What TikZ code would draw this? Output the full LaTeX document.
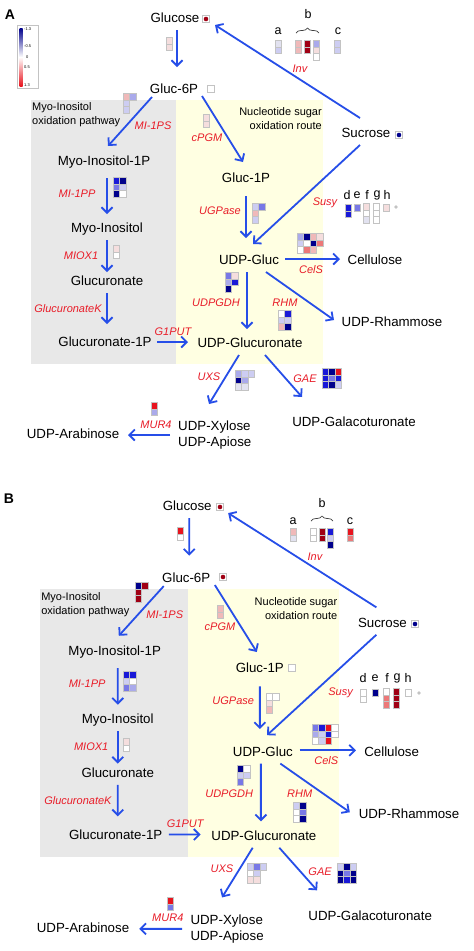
\documentclass[tikz,border=0pt]{standalone}
\usepackage{fontspec}
\setmainfont{Liberation Sans}
\usetikzlibrary{arrows.meta,decorations.pathreplacing}
\definecolor{arrblue}{RGB}{38,78,232}
\definecolor{lblred}{RGB}{232,28,40}
\definecolor{graybg}{RGB}{232,232,232}
\definecolor{yelbg}{RGB}{255,255,226}
\definecolor{db}{RGB}{0,0,140}
\definecolor{bl}{RGB}{25,25,215}
\definecolor{mb}{RGB}{120,120,230}
\definecolor{lb}{RGB}{170,170,235}
\definecolor{vb}{RGB}{205,205,242}
\definecolor{vvb}{RGB}{226,226,240}
\definecolor{wh}{RGB}{255,255,255}
\definecolor{vpk}{RGB}{245,222,222}
\definecolor{lp}{RGB}{240,185,185}
\definecolor{pk}{RGB}{236,120,120}
\definecolor{rd}{RGB}{232,20,30}
\definecolor{dr}{RGB}{160,0,20}
\definecolor{cellgray}{RGB}{195,195,195}
\newcommand\hrow[3]{\foreach \cc [count=\ii from 0] in {#3}{\fill[\cc] ({#1+6.5*\ii},#2) rectangle ++(6.5,6.8); \draw[cellb] ({#1+6.5*\ii},#2) rectangle ++(6.5,6.8);}}
\newcommand\hcol[3]{\foreach \cc [count=\ii from 0] in {#3}{\fill[\cc] (#1,{#2+6.8*\ii}) rectangle ++(6.5,6.8); \draw[cellb] (#1,{#2+6.8*\ii}) rectangle ++(6.5,6.8);}}
\newcommand\metmk[3]{\draw[cellb,fill=white] ({#1-3.5},{#2-3.5}) rectangle ++(7,7); \fill[#3] (#1,#2) circle (2.3);}
\newcommand\drawpanel[1]{%
  \fill[graybg] (31,100) rectangle (176,364);
  \fill[yelbg] (176,100) rectangle (323,364);
  \node[pathlbl, anchor=west, align=left] (#1path1) at (32,115) {Myo-Inositol\\oxidation pathway};
  \node[pathlbl, anchor=east, align=right] (#1path2) at (322,119) {Nucleotide sugar\\oxidation route};
  \node[met] (#1glc) at (175,18) {Glucose};
  \node[met] (#1g6p) at (174,89) {Gluc-6P};
  \node[met] (#1suc) at (366,133) {Sucrose};
  \node[met] (#1mi1p) at (104,161) {Myo-Inositol-1P};
  \node[met] (#1myo) at (107,228) {Myo-Inositol};
  \node[met] (#1glcn) at (107,281) {Glucuronate};
  \node[met] (#1glcn1p) at (105,342) {Glucuronate-1P};
  \node[met] (#1g1p) at (246,178) {Gluc-1P};
  \node[met] (#1udpg) at (249,260) {UDP-Gluc};
  \node[met] (#1cell) at (375,260) {Cellulose};
  \node[met] (#1rham) at (392,322) {UDP-Rhammose};
  \node[met] (#1udpga) at (250,343) {UDP-Glucuronate};
  \node[met] (#1galac) at (354,422) {UDP-Galacoturonate};
  \node[met2, anchor=west, align=left] (#1xyl) at (178,435) {UDP-Xylose\\UDP-Apiose};
  \node[met] (#1arab) at (73,434) {UDP-Arabinose};
  \node[enz] (#1mi1ps) at (153,125) {MI-1PS};
  \node[enz] (#1cpgm) at (207,137) {cPGM};
  \node[enz] (#1inv) at (300,68) {Inv};
  \node[enz] (#1susy) at (325,201) {Susy};
  \node[enz] (#1ugp) at (220,210) {UGPase};
  \node[enz] (#1cels) at (311,269) {CelS};
  \node[enz] (#1udpgdh) at (216,302) {UDPGDH};
  \node[enz] (#1rhm) at (285,302) {RHM};
  \node[enz] (#1g1put) at (173,331) {G1PUT};
  \node[enz] (#1mi1pp) at (77,193) {MI-1PP};
  \node[enz] (#1miox) at (81,255) {MIOX1};
  \node[enz] (#1glcnk) at (68,308) {GlucuronateK};
  \node[enz] (#1uxs) at (209,376) {UXS};
  \node[enz] (#1gae) at (305,378) {GAE};
  \node[enz] (#1mur) at (156,424) {MUR4};
  \draw[arr] ([shift={(2,12)}]#1glc.center) -- ([shift={(3,-22)}]#1g6p.center);
  \draw[arr] ([shift={(-6,-15)}]#1suc.center) -- ([shift={(40,7)}]#1glc.center);
  \draw[arr] ([shift={(-22,8)}]#1g6p.center) -- ([shift={(4,-15)}]#1mi1p.center);
  \draw[arr] ([shift={(28,7)}]#1g6p.center) -- ([shift={(-3,-16)}]#1g1p.center);
  \draw[arr] ([shift={(-6,12)}]#1suc.center) -- ([shift={(4,-16)}]#1udpg.center);
  \draw[arr] ([shift={(0,18)}]#1g1p.center) -- ([shift={(-3,-22)}]#1udpg.center);
  \draw[arr] ([shift={(36,-1)}]#1udpg.center) -- ([shift={(-35,-1)}]#1cell.center);
  \draw[arr] ([shift={(-2,12)}]#1udpg.center) -- ([shift={(-3,-14)}]#1udpga.center);
  \draw[arr] ([shift={(17,12)}]#1udpg.center) -- ([shift={(-58,-2)}]#1rham.center);
  \draw[arr] ([shift={(3,17)}]#1mi1p.center) -- ([shift={(0,-14)}]#1myo.center);
  \draw[arr] ([shift={(0,12)}]#1myo.center) -- ([shift={(0,-9)}]#1glcn.center);
  \draw[arr] ([shift={(0,12)}]#1glcn.center) -- ([shift={(2,-18)}]#1glcn1p.center);
  \draw[arr] ([shift={(52,0)}]#1glcn1p.center) -- ([shift={(-62,-1)}]#1udpga.center);
  \draw[arr] ([shift={(-11,12)}]#1udpga.center) -- ([shift={(31,-31)}]#1xyl.west);
  \draw[arr] ([shift={(15,12)}]#1udpga.center) -- ([shift={(-52,-25)}]#1galac.center);
  \draw[arr] ([shift={(-8,0)}]#1xyl.west) -- ([shift={(55,1)}]#1arab.center);
}
\begin{document}
\begin{tikzpicture}[x=1pt,y=-1pt,
  met/.style={font=\fontsize{13.3}{16}\selectfont, inner sep=0pt, text height=9.5pt, text depth=0pt},
  met2/.style={font=\fontsize{13.3}{16}\selectfont, inner sep=0pt},
  enz/.style={font=\fontsize{11}{13}\selectfont\itshape, text=lblred, inner sep=0pt, text height=8pt, text depth=0pt},
  pathlbl/.style={font=\fontsize{11}{14}\selectfont, inner sep=0pt},
  letter/.style={font=\fontsize{12.5}{14}\selectfont, inner sep=0pt},
  arr/.style={draw=arrblue, line width=1.8pt, -{Straight Barb[length=5.5pt,width=11pt]}},
  cellb/.style={draw=cellgray, line width=0.5pt},
  brc/.style={decorate, decoration={brace, amplitude=5pt}, draw=black!75, line width=0.7pt},
  tick/.style={font=\fontsize{4}{4}\selectfont, inner sep=0pt, anchor=west}]
\useasboundingbox (0,0) rectangle (474,951);
\fill[white] (0,0) rectangle (474,951);
% panel labels
\node[font=\fontsize{14}{14}\selectfont\bfseries, inner sep=0pt] (labA) at (10,15) {A};
\node[font=\fontsize{14}{14}\selectfont\bfseries, inner sep=0pt] (labB) at (9,499) {B};
% legend
\draw[cellgray, fill=white, line width=0.5pt] (17,25) rectangle (38,88);
\shade[top color=db, bottom color=rd, middle color=white] (19.5,28) rectangle (22.5,86);
\node[tick] (t1) at (24,29) {-1.3};
\node[tick] (t2) at (24,46) {-0.5};
\node[tick] (t3) at (26,57) {0};
\node[tick] (t4) at (24,67) {0.5};
\node[tick] (t5) at (24,85) {1.3};
% panel A
\begin{scope}
\drawpanel{A}
\end{scope}
% panel B
\begin{scope}[shift={(8.4,487.7)}, xscale=1.022, yscale=1.014]
\drawpanel{B}
\end{scope}
% ---------- panel A heatmaps ----------
\metmk{206}{19}{dr}
\metmk{211}{89}{white}
\metmk{399}{135}{db}
\hcol{166}{37}{vpk,vpk}
\hrow{123}{93}{lp,lb}
\hcol{123}{99.8}{vb,vb}
\hcol{203}{114}{vpk,vpk}
\node[letter] (Aa) at (278,31) {a};
\node[letter] (Ab) at (308,14) {b};
\node[letter] (Ac) at (338,31) {c};
\draw[brc] (296,33) -- (319,33);
\hcol{275}{40}{vvb,vb}
\hcol{295}{40}{lp,lp}
\hcol{304}{40}{dr,dr}
\hcol{313}{40}{lb,vpk,wh}
\hcol{334}{40}{vb,vb}
\node[letter] (Ad) at (347,195) {d};
\node[letter] (Ae) at (357,195) {e};
\node[letter] (Af) at (367,195) {f};
\node[letter] (Ag) at (377,195) {g};
\node[letter] (Ah) at (387,195) {h};
\hcol{345}{204}{bl,bl}
\hcol{354}{204}{mb}
\hcol{363}{203}{vpk,wh,vvb}
\hcol{373}{203}{wh,wh,wh}
\hcol{383}{204}{vpk}
\fill[cellgray] (396,207) circle (1.8);
\hrow{252}{203}{vb,mb}
\hcol{252}{209.8}{lp,vb}
\hrow{297}{233}{lb,db,lp,vpk}
\hrow{297}{239.8}{vb,wh,db,pk}
\hrow{297}{246.6}{wh,pk,lp}
\hrow{225}{272}{mb,vpk}
\hrow{225}{278.8}{lb,bl}
\hrow{225}{285.6}{db}
\hrow{278}{310}{wh,bl}
\hrow{278}{316.8}{vb,vb}
\hrow{278}{323.6}{lp,db}
\hrow{235}{370}{lb,vb,vb}
\hrow{235}{376.8}{db,lb}
\hrow{235}{383.6}{vvb,vvb}
\hrow{322}{368}{bl,db,rd}
\hrow{322}{374.8}{bl,mb,bl}
\hrow{322}{381.6}{bl,db,vb}
\hrow{113}{177}{bl,db}
\hrow{113}{183.8}{mb,vb}
\hrow{113}{190.6}{db,wh}
\hcol{113}{245}{vpk,wh}
\hcol{151}{402}{rd,lb}
% ---------- panel B heatmaps ----------
\metmk{220}{507}{dr}
\metmk{223}{577}{dr}
\metmk{415}{624}{db}
\metmk{292}{668}{white}
\hcol{177}{527}{rd,wh}
\hrow{135}{582}{db,dr}
\hcol{135}{588.8}{dr,dr}
\hcol{217}{605}{lp,lp}
\node[letter] (Ba) at (293,521) {a};
\node[letter] (Bb) at (322,503) {b};
\node[letter] (Bc) at (350,521) {c};
\draw[brc] (311,521) -- (333,521);
\hcol{290}{528}{lp,vvb}
\hcol{310}{528}{wh,wh}
\hcol{319}{528}{dr,dr}
\hcol{327}{528}{bl,vb,db}
\hcol{347}{528}{rd,pk}
\node[letter] (Bd) at (363,678) {d};
\node[letter] (Be) at (375,678) {e};
\node[letter] (Bf) at (387,678) {f};
\node[letter] (Bg) at (397,678) {g};
\node[letter] (Bh) at (408,678) {h};
\hcol{360}{689}{wh,wh}
\hcol{372}{689}{db}
\hcol{383}{688}{wh,pk,pk}
\hcol{393}{688}{dr,dr,dr}
\hcol{405}{689}{wh}
\fill[cellgray] (419,693) circle (1.8);
\hrow{123}{671}{bl,bl}
\hrow{123}{677.8}{vb,wh}
\hrow{123}{684.6}{mb,lb}
\hcol{123}{738}{vpk,wh}
\hrow{266}{693}{wh,wh}
\hcol{266}{699.8}{vpk,lp}
\hrow{312}{724}{mb,bl,rd,wh}
\hrow{312}{730.8}{lb,vb,bl,wh}
\hrow{312}{737.6}{wh,vb,rd}
\hrow{237}{765}{db,wh}
\hrow{237}{771.8}{vb,vb}
\hrow{237}{778.6}{mb}
\hrow{293}{802}{vb,db}
\hrow{293}{808.8}{wh,mb}
\hrow{293}{815.6}{wh,db}
\hrow{247}{863}{vb,mb,vb}
\hrow{247}{869.8}{wh,vb}
\hrow{247}{876.6}{vpk,vpk}
\hrow{337}{863}{vb,db,vb}
\hrow{337}{869.8}{db,mb,db}
\hrow{337}{876.6}{db,bl,db}
\hcol{167}{897}{rd,mb}
\end{tikzpicture}
\end{document}
